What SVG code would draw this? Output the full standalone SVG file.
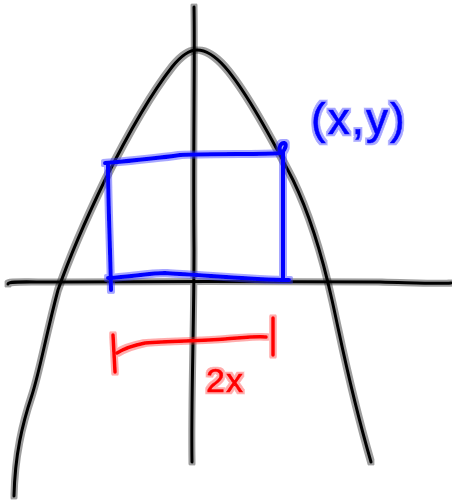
<svg xmlns="http://www.w3.org/2000/svg" width="452" height="500" viewBox="0 0 452 500">
  <defs>
    <filter id="haloK" filterUnits="userSpaceOnUse" x="0" y="0" width="452" height="500">
      <feMorphology in="SourceAlpha" operator="dilate" radius="2" result="d"/>
      <feFlood flood-color="#000000" flood-opacity="0.38"/>
      <feComposite in2="d" operator="in" result="h"/>
      <feMerge><feMergeNode in="h"/><feMergeNode in="SourceGraphic"/></feMerge>
    </filter>
    <filter id="haloB" filterUnits="userSpaceOnUse" x="0" y="0" width="452" height="500">
      <feMorphology in="SourceAlpha" operator="dilate" radius="2.2" result="d"/>
      <feFlood flood-color="#3a3aff" flood-opacity="0.45"/>
      <feComposite in2="d" operator="in" result="h"/>
      <feMerge><feMergeNode in="h"/><feMergeNode in="SourceGraphic"/></feMerge>
    </filter>
    <filter id="haloR" filterUnits="userSpaceOnUse" x="0" y="0" width="452" height="500">
      <feMorphology in="SourceAlpha" operator="dilate" radius="2.2" result="d"/>
      <feFlood flood-color="#ff3030" flood-opacity="0.4"/>
      <feComposite in2="d" operator="in" result="h"/>
      <feMerge><feMergeNode in="h"/><feMergeNode in="SourceGraphic"/></feMerge>
    </filter>
  </defs>
  <style>
    .k { fill: none; stroke: #000000; stroke-width: 3; stroke-linecap: round; stroke-linejoin: round; }
    .b { fill: none; stroke: #0000ff; stroke-width: 4; stroke-linecap: round; stroke-linejoin: round; }
    .r { fill: none; stroke: #ff0000; stroke-width: 3.5; stroke-linecap: round; stroke-linejoin: round; }
    .lblB { font-family: "Liberation Sans", Arial, sans-serif; font-size: 44px; letter-spacing: 2px; fill: #0000ff; stroke: #0000ff; stroke-width: 0.6; }
    .lblR { font-family: "Liberation Sans", Arial, sans-serif; font-size: 34px; letter-spacing: 1px; fill: #ff0000; stroke: #ff0000; stroke-width: 0.5; }
  </style>
  <rect width="452" height="500" fill="#ffffff"/>

  <g id="axes" filter="url(#haloK)">
    <path class="k" d="M194,7 C195,60 193,150 194,250 C194,330 191,400 192,462"/>
    <path class="k" d="M8,284 C9,281 20,282 60,282 C150,281 300,282 380,282 C420,283 440,284 451,283"/>
  </g>

  <g id="parabola" filter="url(#haloK)">
    <path class="k" d="M14,496 C15,455 22,425 32,395 C40,370 46,335 58,290 C72,250 88,215 105,180 C125,140 150,95 172,67 C180,57 188,50 197,50 C207,50 217,58 225,67 C245,90 270,135 293,180 C310,215 322,255 332,300 C342,345 350,390 371,462"/>
  </g>

  <g id="rectangle" filter="url(#haloB)">
    <path class="b" d="M108,165 C108,200 110,240 111,290"/>
    <path class="b" d="M105,163 C140,160 160,158 180,155 C220,153 260,155 281,153 C278,149 280,143 284,143 C287,144 286,148 282,153"/>
    <path class="b" d="M283,152 C283,190 283,240 283,279"/>
    <path class="b" d="M108,278 C130,277 150,273 165,273 C200,275 260,280 289,280"/>
  </g>

  <g id="bracket" filter="url(#haloR)">
    <path class="r" d="M113,335 L115,372"/>
    <path class="r" d="M117,353 C125,348 135,345 145,343 C170,341 200,341 225,339 C240,338 255,336 266,337"/>
    <path class="r" d="M273,318 L273,355"/>
  </g>

  <g id="label-xy" filter="url(#haloB)">
    <text class="lblB" x="311" y="134">(x,y)</text>
  </g>

  <g id="label-2x" filter="url(#haloR)">
    <text class="lblR" x="206" y="392">2x</text>
  </g>
</svg>
